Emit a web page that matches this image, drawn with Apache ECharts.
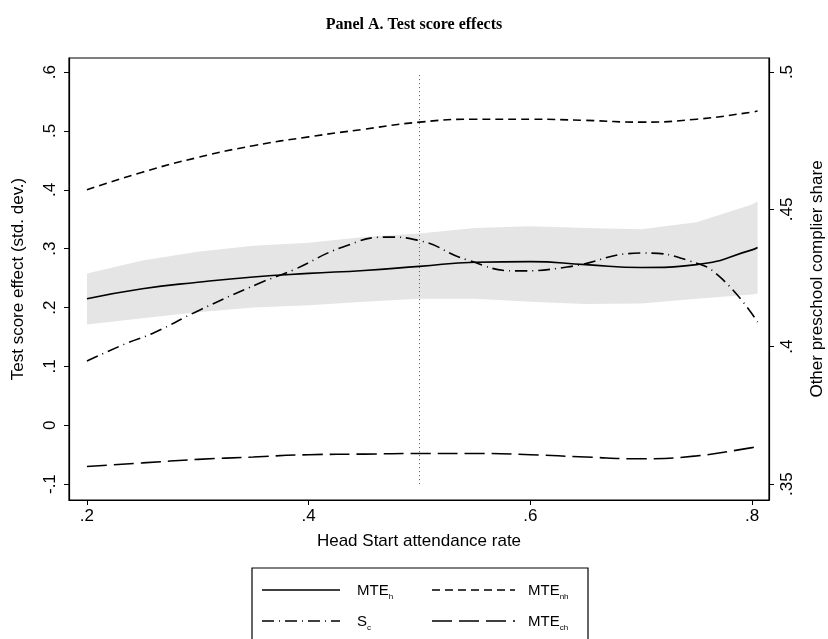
<!DOCTYPE html>
<html><head><meta charset="utf-8">
<script src="https://cdn.jsdelivr.net/npm/echarts@6/dist/echarts.min.js"></script>
<style>html,body{margin:0;padding:0;background:#fff}#c{width:828px;height:639px}</style>
</head><body><div id="c"></div>
<script>
const xs = [0.2, 0.25, 0.3, 0.35, 0.4, 0.45, 0.5, 0.55, 0.6, 0.65, 0.7, 0.75, 0.8, 0.805]
const mteH = [0.215, 0.232, 0.243, 0.252, 0.258, 0.263, 0.27, 0.277, 0.278, 0.273, 0.268, 0.273, 0.298, 0.302]
const ciLow = [0.171, 0.182, 0.192, 0.2, 0.204, 0.21, 0.215, 0.215, 0.21, 0.206, 0.207, 0.215, 0.222, 0.224]
const ciHigh = [0.258, 0.28, 0.295, 0.305, 0.31, 0.32, 0.326, 0.335, 0.338, 0.335, 0.333, 0.345, 0.375, 0.38]
const mteNH = [0.40, 0.43, 0.455, 0.475, 0.49, 0.503, 0.515, 0.52, 0.52, 0.518, 0.515, 0.52, 0.532, 0.534]
const mteCH = [-0.07, -0.064, -0.058, -0.054, -0.05, -0.049, -0.048, -0.048, -0.05, -0.054, -0.057, -0.052, -0.038, -0.036]
const scX = [0.2, 0.236, 0.26, 0.302, 0.356, 0.386, 0.431, 0.471, 0.498, 0.543, 0.588, 0.633, 0.702, 0.744, 0.771, 0.805]
const sc = [0.3948, 0.4013, 0.405, 0.4134, 0.4232, 0.4279, 0.4363, 0.4399, 0.4388, 0.4316, 0.4276, 0.429, 0.4341, 0.4312, 0.4254, 0.409]
const xTicks = [0.2, 0.4, 0.6, 0.8]
const leftTicks = [-0.1, 0, 0.1, 0.2, 0.3, 0.4, 0.5, 0.6]
const rightTicks = [0.35, 0.4, 0.45, 0.5]
const cutoff = 0.5

const fmt = v => {
  let s = String(Math.round(v * 100) / 100)
  return s.replace(/^(-?)0\./, '$1.')
}
const pts = (xv, yv) => xv.map((x, i) => [x, yv[i]])
const font = 'Liberation Sans'
const lbl = {color: '#000', fontSize: 17, fontFamily: font, formatter: fmt}
const legendText = (x, y, main, sub) => ({
  type: 'text', x, y,
  style: {text: `{m|${main}}{s|${sub}}`, rich: {
    m: {fontFamily: font, fontSize: 15, fill: '#000'},
    s: {fontFamily: font, fontSize: 8, fill: '#000', padding: [12, 0, 0, 0]}}}
})

let chart = echarts.init(document.getElementById('c'))
chart.setOption({
  animation: false,
  title: {text: 'Panel A. Test score effects', left: 'center', top: 12,
    textStyle: {fontFamily: 'Liberation Serif', fontWeight: 'bold', fontSize: 16, color: '#000'}},
  grid: {left: 69, right: 59, top: 58, bottom: 139, outerBoundsMode: 'none', containLabel: false},
  xAxis: {
    type: 'value', min: 0.1838, max: 0.8153,
    name: 'Head Start attendance rate', nameLocation: 'middle', nameGap: 33,
    nameTextStyle: {fontFamily: font, fontSize: 17, color: '#000'},
    splitLine: {show: false},
    axisLine: {onZero: false, lineStyle: {color: '#000', width: 1.2}},
    axisTick: {customValues: xTicks, length: 5, lineStyle: {color: '#000'}},
    axisLabel: Object.assign({customValues: xTicks, margin: 8}, lbl)
  },
  yAxis: [{
    type: 'value', min: -0.127, max: 0.624, position: 'left',
    name: 'Test score effect (std. dev.)', nameLocation: 'middle', nameGap: 42,
    nameTextStyle: {fontFamily: font, fontSize: 17, color: '#000'},
    splitLine: {show: false},
    axisLine: {show: true, onZero: false, lineStyle: {color: '#000', width: 1.2}},
    axisTick: {customValues: leftTicks, length: 5, lineStyle: {color: '#000'}},
    axisLabel: Object.assign({customValues: leftTicks, rotate: 90, margin: 10}, lbl)
  }, {
    type: 'value', min: 0.3442, max: 0.5051, position: 'right',
    name: 'Other preschool complier share', nameLocation: 'middle', nameGap: 40,
    nameTextStyle: {fontFamily: font, fontSize: 17, color: '#000'},
    splitLine: {show: false},
    axisLine: {show: true, onZero: false, lineStyle: {color: '#000', width: 1.2}},
    axisTick: {customValues: rightTicks, length: 5, lineStyle: {color: '#000'}},
    axisLabel: Object.assign({customValues: rightTicks, rotate: 90, margin: 10}, lbl)
  }],
  graphic: [
    {type: 'rect', shape: {x: 69, y: 58, width: 700, height: 442}, style: {fill: 'none', stroke: '#000', lineWidth: 1.2}, z: 10},
    {type: 'rect', shape: {x: 252, y: 568, width: 336, height: 80}, style: {fill: '#fff', stroke: '#000', lineWidth: 1.2}},
    {type: 'line', shape: {x1: 262, y1: 590, x2: 340, y2: 590}, style: {stroke: '#000', lineWidth: 1.6}},
    {type: 'line', shape: {x1: 432, y1: 590, x2: 515, y2: 590}, style: {stroke: '#000', lineWidth: 1.6, lineDash: [8, 5]}},
    {type: 'line', shape: {x1: 262, y1: 621, x2: 340, y2: 621}, style: {stroke: '#000', lineWidth: 1.6, lineDash: [12, 5, 1, 5]}},
    {type: 'line', shape: {x1: 432, y1: 621, x2: 515, y2: 621}, style: {stroke: '#000', lineWidth: 1.6, lineDash: [20, 7]}},
    legendText(357, 581, 'MTE', 'h'),
    legendText(528, 581, 'MTE', 'nh'),
    legendText(357, 612, 'S', 'c'),
    legendText(528, 612, 'MTE', 'ch')
  ],
  series: [
    {type: 'custom', silent: true, data: [0],
      renderItem: (params, api) => {
        let top = xs.map((x, i) => api.coord([x, ciHigh[i]]))
        let bot = xs.map((x, i) => api.coord([x, ciLow[i]])).reverse()
        return {type: 'polygon', shape: {points: top.concat(bot)}, style: {fill: '#e5e5e5'}}
      }},
    {type: 'line', data: [[cutoff, -0.1], [cutoff, 0.6]], symbol: 'none', lineStyle: {color: '#555', width: 1, type: [1, 3]}},
    {type: 'line', data: pts(xs, mteNH), symbol: 'none', smooth: true, lineStyle: {color: '#000', width: 1.6, type: [8, 5]}},
    {type: 'line', data: pts(xs, mteCH), symbol: 'none', smooth: true, lineStyle: {color: '#000', width: 1.6, type: [20, 7]}},
    {type: 'line', data: pts(scX, sc), yAxisIndex: 1, symbol: 'none', smooth: true, lineStyle: {color: '#000', width: 1.6, type: [12, 5, 1, 5]}},
    {type: 'line', data: pts(xs, mteH), symbol: 'none', smooth: true, lineStyle: {color: '#000', width: 1.6}}
  ]
})
</script>
</body></html>
